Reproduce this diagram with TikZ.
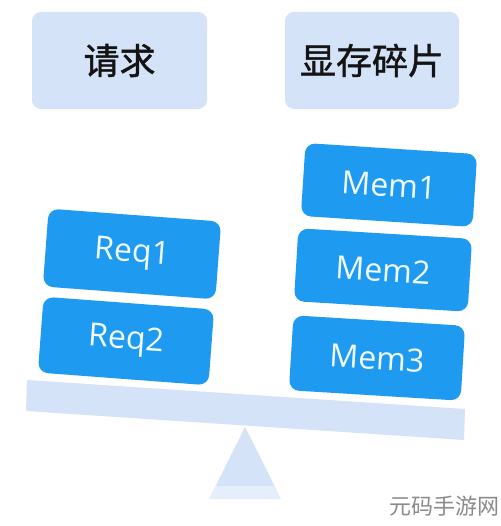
\documentclass[tikz,border=0pt]{standalone}
\usepackage{fontspec}
\setmainfont{Open Sans}
\newfontfamily\cjk{Noto Sans CJK SC}
\newfontfamily\cjkb{Noto Sans CJK SC}[FakeBold=1.2]
\definecolor{paleblue}{HTML}{D4E3F8}
\definecolor{palerblue}{HTML}{E5EEFB}
\definecolor{boxblue}{HTML}{1E9BF0}
\definecolor{wmgray}{HTML}{8A8A8A}
\definecolor{boxtext}{HTML}{F2FBFF}
\tikzset{
  header/.style={fill=paleblue, rounded corners=9pt, minimum width=175pt, minimum height=97pt, inner sep=0pt, font=\cjkb\fontsize{36}{40}\selectfont, text=black!92},
  blockbox/.style={fill=boxblue, rounded corners=10pt, minimum width=173pt, minimum height=75pt, inner sep=0pt, text=boxtext, font=\fontsize{32}{34}\selectfont},
}
\begin{document}
\begin{tikzpicture}[x=1pt,y=-1pt]
\useasboundingbox (0,0) rectangle (500,526);
\fill[white] (0,0) rectangle (500,526);
% headers
\node[header] (hreq) at (119.5,60.5) {请求};
\node[header, minimum width=174pt] (hmem) at (372,60.5) {显存碎片};
% beam
\fill[paleblue] (27,380) -- (465,409) -- (464,440) -- (26,411) -- cycle;
% fulcrum
\fill[paleblue] (245,427) -- (274.5,486) -- (215.5,486) -- cycle;
\fill[palerblue] (215.5,486) -- (274.5,486) -- (281,499) -- (209,499) -- cycle;
% blocks
\node[blockbox, rotate=-4.3, minimum height=78pt] (req1) at (132,254) {Req1};
\node[blockbox, rotate=-4.3, minimum width=171pt, minimum height=76pt] (req2) at (126,341) {Req2};
\node[blockbox, rotate=-3.7, minimum width=172pt, minimum height=73pt] (mem1) at (389,185) {Mem1};
\node[blockbox, rotate=-3.5, minimum width=174pt, minimum height=73pt] (mem2) at (383,270) {Mem2};
\node[blockbox, rotate=-3.5, minimum width=172pt, minimum height=75pt] (mem3) at (377,358) {Mem3};
% watermark
\node[text=wmgray, font=\cjk\fontsize{22}{24}\selectfont, inner sep=0pt, anchor=east] (wm) at (500,506) {元码手游网};
\end{tikzpicture}
\end{document}
